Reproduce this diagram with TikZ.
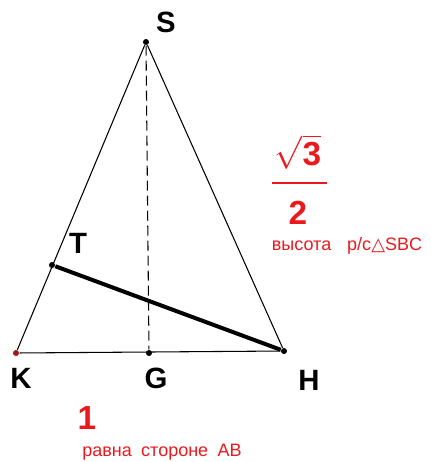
\documentclass[tikz,border=0pt]{standalone}
\usepackage{fontspec}
\setmainfont{Liberation Sans}
\newfontfamily\dejavu{DejaVu Sans}
\usetikzlibrary{arrows}
\definecolor{numred}{RGB}{235,25,30}
\definecolor{kdot}{RGB}{160,25,25}
\newcommand{\bigf}{\fontsize{22}{22}\selectfont\bfseries}
\newcommand{\numf}{\fontsize{25}{25}\selectfont\bfseries}
\newcommand{\notef}{\fontsize{13.5}{14}\selectfont}

\begin{document}
\begin{tikzpicture}[x=0.75pt, y=-0.75pt, line width=0.8pt,
  pt/.style={circle, fill, inner sep=1.6pt},
  vlabel/.style={font=\bigf},
  num/.style={text=numred, font=\numf},
  note/.style={text=numred, font=\notef}]
\useasboundingbox (0,0) rectangle (430,462);
%
\node (S) [pt] at (146,42) {};
\node (K) [pt, kdot] at (16,353) {};
\node (G) [pt] at (149,353) {};
\node (H) [pt] at (284,351) {};
\node (T) [pt] at (52,265) {};
%
\path (S) edge (K);
\path (K) edge (H);
\path (H) edge (S);
\path (S) edge[dash pattern=on 7.5pt off 3.75pt] (G);
\path (T) edge[line width=3pt] (H);
%
\node (lS) [vlabel] at (166,22) {S};
\node (lK) [vlabel] at (21,378) {K};
\node (lG) [vlabel] at (156,378) {G};
\node (lH) [vlabel] at (309,380) {H};
\node (lT) [vlabel] at (78,243) {T};
%
\node (root) [num] at (298,152) {$\sqrt{\textbf{3}}$};
\coordinate (barL) at (272,183);
\coordinate (barR) at (327,183);
\draw[numred, line width=1.5pt] (barL) -- (barR);
\node (two) [num] at (298,213) {2};
\node (height) [note] at (347,246) {высота\hspace{12pt}р/с{\dejavu△}SBC};
%
\node (one) [num] at (87,418) {1};
\node (side) [note] at (162,452) {равна\hspace{7pt}стороне\hspace{7pt}AB};
\end{tikzpicture}
\end{document}
